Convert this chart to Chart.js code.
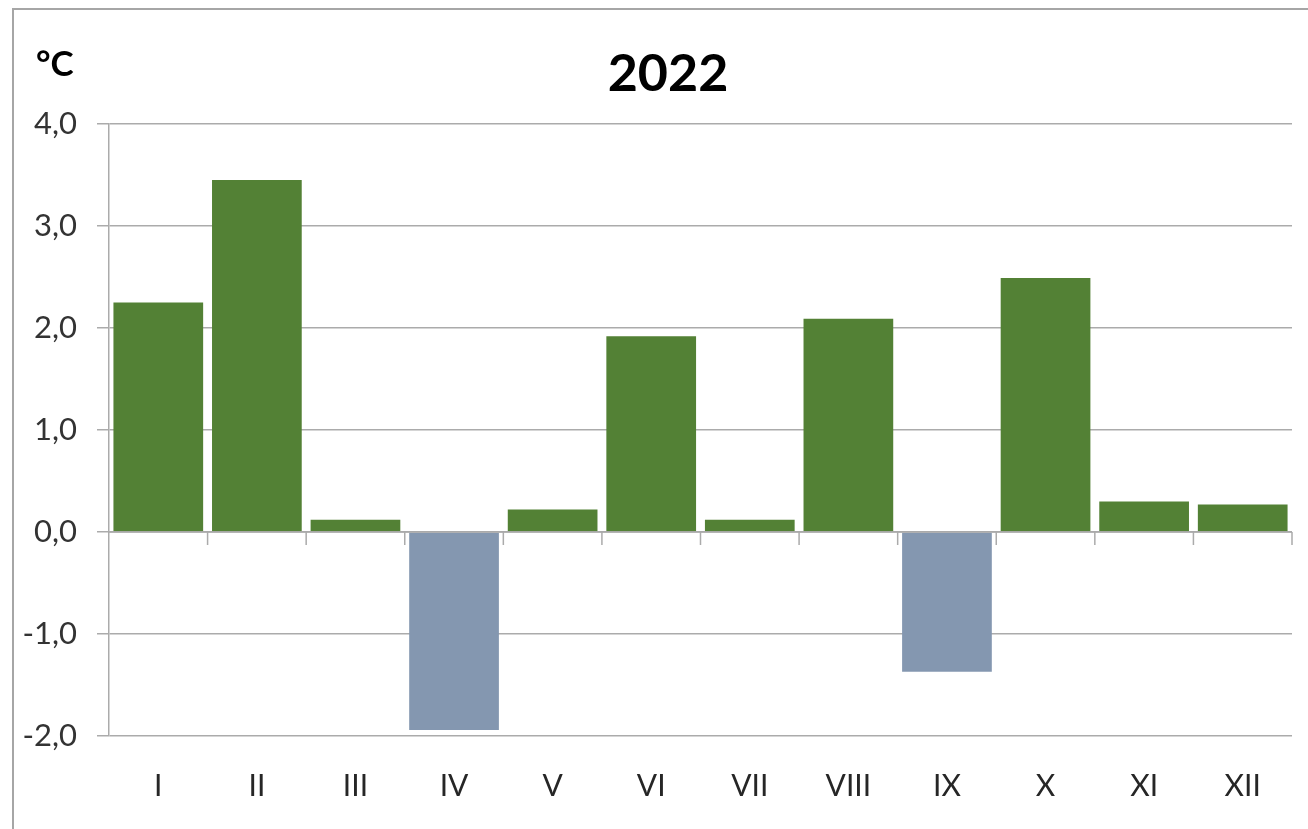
<!DOCTYPE html>
<html>
<head>
<meta charset="utf-8">
<script src="https://cdn.jsdelivr.net/npm/chart.js@4"></script>
<style>
html,body{margin:0;padding:0;background:#fff;}
#wrap{position:relative;width:1308px;height:829px;}
</style>
</head>
<body>
<div id="wrap"><canvas id="c" width="1308" height="829"></canvas></div>
<script>
const categories = ["I","II","III","IV","V","VI","VII","VIII","IX","X","XI","XII"];
const anomalies = [2.25, 3.45, 0.12, -1.94, 0.22, 1.92, 0.12, 2.09, -1.37, 2.49, 0.30, 0.27];
const yTicks = [-2, -1, 0, 1, 2, 3, 4];
const titleText = "2022";
const unitText = "°C";

const POS = "#538135", NEG = "#8497B0", GRID = "#ababab";
const FONT = "Lato, 'Open Sans', sans-serif";

const deco = {
  id: "deco",
  beforeDraw(chart) {
    const ctx = chart.ctx;
    ctx.save();
    ctx.strokeStyle = "#a6a6a6";
    ctx.lineWidth = 2;
    ctx.beginPath();
    ctx.moveTo(13, 829);
    ctx.lineTo(13, 9);
    ctx.lineTo(1308, 9);
    ctx.stroke();
    ctx.fillStyle = "#000";
    ctx.font = "bold 35px " + FONT;
    ctx.textAlign = "left";
    ctx.textBaseline = "alphabetic";
    ctx.fillText(unitText, 36, 76);
    ctx.font = "bold 52px " + FONT;
    ctx.textAlign = "center";
    ctx.textBaseline = "middle";
    ctx.fillText(titleText, 668, 74);
    ctx.restore();
  },
  afterDatasetsDraw(chart) {
    const ctx = chart.ctx, x = chart.scales.x, y = chart.scales.y;
    const y0 = y.getPixelForValue(0);
    const step = x.width / categories.length;
    ctx.save();
    ctx.strokeStyle = GRID;
    ctx.lineWidth = 1.5;
    ctx.beginPath();
    ctx.moveTo(x.left, y0); ctx.lineTo(x.right, y0);
    for (let i = 1; i <= categories.length; i++) {
      const px = x.left + i * step;
      ctx.moveTo(px, y0); ctx.lineTo(px, y0 + 13);
    }
    ctx.stroke();
    ctx.restore();
  }
};

new Chart(document.getElementById("c"), {
  type: "bar",
  data: {
    labels: categories,
    datasets: [{
      data: anomalies,
      backgroundColor: anomalies.map(v => v < 0 ? NEG : POS),
      borderWidth: 0,
      barPercentage: 0.91,
      categoryPercentage: 1.0
    }]
  },
  options: {
    responsive: false,
    animation: false,
    layout: { padding: { left: 0, right: 16, top: 124, bottom: 28 } },
    plugins: {
      legend: { display: false },
      tooltip: { enabled: false },
      title: { display: false }
    },
    scales: {
      x: {
        afterFit(scale) { scale.height = 65; },
        grid: { display: false },
        border: { display: false },
        ticks: { color: "#262626", font: { family: FONT, size: 30 }, padding: 24, maxRotation: 0 }
      },
      y: {
        min: -2, max: 4,
        afterFit(scale) { scale.width = 109; },
        afterBuildTicks(scale) { scale.ticks = yTicks.map(v => ({ value: v })); },
        grid: { color: GRID, lineWidth: 1.5, tickLength: 12 },
        border: { color: GRID, width: 1.5 },
        ticks: {
          color: "#333",
          font: { family: FONT, size: 31 },
          padding: 20,
          callback: v => v.toFixed(1).replace(".", ",")
        }
      }
    }
  },
  plugins: [deco]
});
</script>
</body>
</html>
